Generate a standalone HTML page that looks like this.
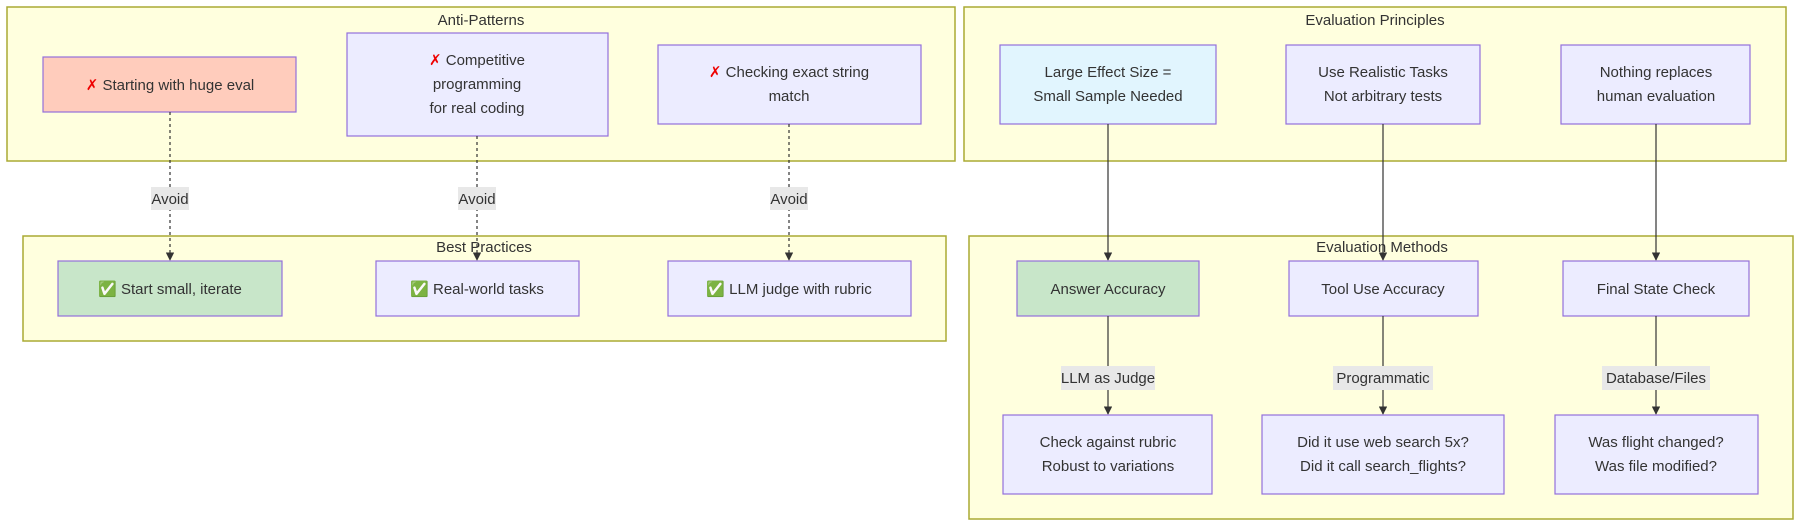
<!DOCTYPE html>
<html><head><meta charset="utf-8"><style>
body{margin:0;background:#fff;width:1799px;height:523px;overflow:hidden}
svg text{font-family:"Liberation Sans","DejaVu Sans",sans-serif;font-size:15px;fill:#333;text-anchor:middle}
.c{fill:#ffffde;stroke:#aaaa33;stroke-width:1.5}
.n{fill:#ececff;stroke:#9370db;stroke-width:1.2}
.g{fill:#c8e6c9}
.r{fill:#ffccbc}
.b{fill:#e1f5fe}
.l{fill:#e8e8e8;stroke:none}
.e{stroke:#333;stroke-width:1.2;fill:none}
.d{stroke-dasharray:3 3}
.x{fill:#e00;font-weight:bold}
.k{fill:#2a2}
</style></head><body>
<svg width="1799" height="523" xmlns="http://www.w3.org/2000/svg">
<defs><marker id="a" viewBox="0 0 10 10" refX="9" refY="5" markerWidth="7" markerHeight="7" orient="auto"><path d="M0,0L10,5L0,10z" fill="#333"/></marker></defs>
<!-- clusters -->
<rect class="c" x="7" y="7" width="948" height="154"/>
<text x="481" y="25">Anti-Patterns</text>
<rect class="c" x="23" y="236" width="923" height="105"/>
<rect class="c" x="964" y="7" width="822" height="154"/>
<text x="1375" y="25">Evaluation Principles</text>
<rect class="c" x="969" y="236" width="824" height="283"/>

<!-- anti-pattern nodes -->
<rect class="n r" x="43" y="57" width="253" height="55"/>
<text x="170" y="90"><tspan class="x">✗</tspan> Starting with huge eval</text>
<rect class="n" x="347" y="33" width="261" height="103"/>
<text x="477" y="65"><tspan class="x">✗</tspan> Competitive</text>
<text x="477" y="89">programming</text>
<text x="477" y="113">for real coding</text>
<rect class="n" x="658" y="45" width="263" height="79"/>
<text x="789" y="77"><tspan class="x">✗</tspan> Checking exact string</text>
<text x="789" y="101">match</text>

<!-- edges avoid -->
<line class="e d" x1="170" y1="112" x2="170" y2="260" marker-end="url(#a)"/>
<line class="e d" x1="477" y1="136" x2="477" y2="260" marker-end="url(#a)"/>
<line class="e d" x1="789" y1="124" x2="789" y2="260" marker-end="url(#a)"/>
<rect class="l" x="151" y="187" width="38" height="23"/><text x="170" y="204">Avoid</text>
<rect class="l" x="458" y="187" width="38" height="23"/><text x="477" y="204">Avoid</text>
<rect class="l" x="770" y="187" width="38" height="23"/><text x="789" y="204">Avoid</text>
<text x="484" y="252">Best Practices</text>

<!-- best practice nodes -->
<rect class="n g" x="58" y="261" width="224" height="55"/>
<text x="170" y="294"><tspan class="k">✅</tspan> Start small, iterate</text>
<rect class="n" x="376" y="261" width="203" height="55"/>
<text x="477" y="294"><tspan class="k">✅</tspan> Real-world tasks</text>
<rect class="n" x="668" y="261" width="243" height="55"/>
<text x="789" y="294"><tspan class="k">✅</tspan> LLM judge with rubric</text>

<!-- principles -->
<rect class="n b" x="1000" y="45" width="216" height="79"/>
<text x="1108" y="77">Large Effect Size =</text>
<text x="1108" y="101">Small Sample Needed</text>
<rect class="n" x="1286" y="45" width="194" height="79"/>
<text x="1383" y="77">Use Realistic Tasks</text>
<text x="1383" y="101">Not arbitrary tests</text>
<rect class="n" x="1561" y="45" width="189" height="79"/>
<text x="1656" y="77">Nothing replaces</text>
<text x="1656" y="101">human evaluation</text>

<line class="e" x1="1108" y1="124" x2="1108" y2="260" marker-end="url(#a)"/>
<line class="e" x1="1383" y1="124" x2="1383" y2="260" marker-end="url(#a)"/>
<line class="e" x1="1656" y1="124" x2="1656" y2="260" marker-end="url(#a)"/>
<text x="1382" y="252">Evaluation Methods</text>

<rect class="n g" x="1017" y="261" width="182" height="55"/>
<text x="1108" y="294">Answer Accuracy</text>
<rect class="n" x="1289" y="261" width="189" height="55"/>
<text x="1383" y="294">Tool Use Accuracy</text>
<rect class="n" x="1563" y="261" width="186" height="55"/>
<text x="1656" y="294">Final State Check</text>

<line class="e" x1="1108" y1="316" x2="1108" y2="414" marker-end="url(#a)"/>
<line class="e" x1="1383" y1="316" x2="1383" y2="414" marker-end="url(#a)"/>
<line class="e" x1="1656" y1="316" x2="1656" y2="414" marker-end="url(#a)"/>
<rect class="l" x="1061" y="366" width="94" height="24"/><text x="1108" y="383">LLM as Judge</text>
<rect class="l" x="1333" y="366" width="100" height="24"/><text x="1383" y="383">Programmatic</text>
<rect class="l" x="1602" y="366" width="108" height="24"/><text x="1656" y="383">Database/Files</text>

<rect class="n" x="1003" y="415" width="209" height="79"/>
<text x="1108" y="447">Check against rubric</text>
<text x="1108" y="471">Robust to variations</text>
<rect class="n" x="1262" y="415" width="242" height="79"/>
<text x="1383" y="447">Did it use web search 5x?</text>
<text x="1383" y="471">Did it call search_flights?</text>
<rect class="n" x="1555" y="415" width="203" height="79"/>
<text x="1656" y="447">Was flight changed?</text>
<text x="1656" y="471">Was file modified?</text>
</svg>
</body></html>
